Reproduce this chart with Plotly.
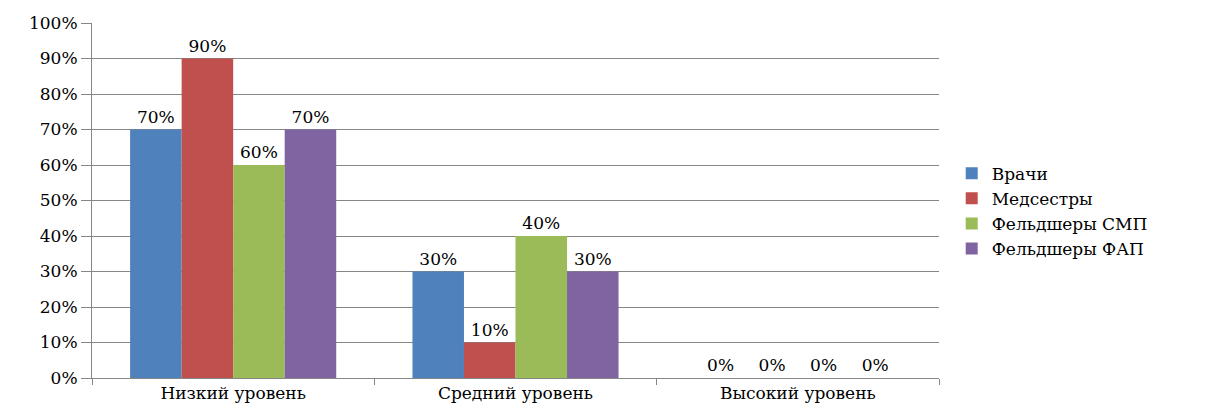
import plotly.graph_objects as go

categories = ["Низкий уровень", "Средний уровень", "Высокий уровень"]
series_names = ["Врачи", "Медсестры", "Фельдшеры СМП", "Фельдшеры ФАП"]
vrachi = [0.70, 0.30, 0.0]
medsestry = [0.90, 0.10, 0.0]
feldshery_smp = [0.60, 0.40, 0.0]
feldshery_fap = [0.70, 0.30, 0.0]
series_values = [vrachi, medsestry, feldshery_smp, feldshery_fap]
colors = ["#4F81BD", "#C0504D", "#9BBB59", "#8064A2"]
y_ticks = [i / 10 for i in range(11)]
y_tick_labels = [f"{i * 10}%" for i in range(11)]

serif = "DejaVu Serif"

fig = go.Figure()
for name, vals, col in zip(series_names, series_values, colors):
    fig.add_trace(go.Bar(
        name=name,
        x=categories,
        y=vals,
        marker=dict(color=col, line=dict(width=0)),
        text=[f"{round(v * 100)}%" for v in vals],
        textposition="outside",
        cliponaxis=False,
        textfont=dict(family=serif, size=17, color="#000000"),
    ))

fig.update_layout(
    width=1206,
    height=406,
    margin=dict(l=92, r=267, t=23, b=28, autoexpand=False),
    paper_bgcolor="white",
    plot_bgcolor="white",
    barmode="group",
    bargap=0.27,
    bargroupgap=0,
    font=dict(family=serif, size=17, color="#000000"),
    legend=dict(
        x=1.015, y=0.47, xanchor="left", yanchor="middle",
        font=dict(family=serif, size=17, color="#000000"),
        itemwidth=30, tracegroupgap=0,
    ),
    xaxis=dict(
        automargin=False,
        showgrid=False,
        showline=True, linecolor="#868686", linewidth=1,
        ticks="outside", tickson="boundaries", ticklen=6, tickcolor="#868686",
        tickfont=dict(family=serif, size=17, color="#000000"),
    ),
    yaxis=dict(
        automargin=False,
        range=[0, 1.0],
        tickvals=y_ticks, ticktext=y_tick_labels,
        showgrid=True, gridcolor="#868686", gridwidth=1,
        showline=True, linecolor="#868686", linewidth=1,
        ticks="outside", ticklen=10, tickcolor="#868686",
        tickfont=dict(family=serif, size=17, color="#000000"),
        zeroline=False,
    ),
)

fig.write_html("out.html")
